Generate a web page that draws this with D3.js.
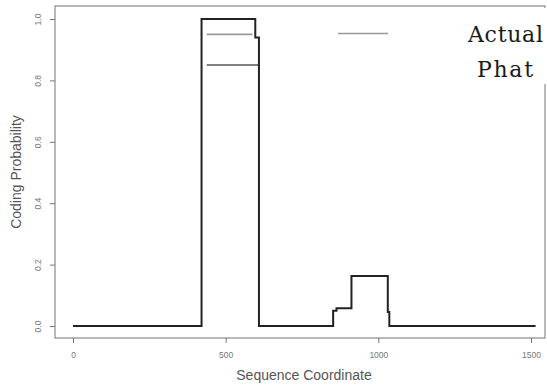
<!DOCTYPE html>
<html>
<head>
<script src="https://d3js.org/d3.v7.min.js"></script>
<style>
body {margin: 0; background: #fff;}
</style>
</head>
<body>
<svg id="chart" width="547" height="385"></svg>
<script>
// step function breakpoints (sequence coordinate) and the coding probability from each one on
var stepPos = [0, 421, 597, 609, 852, 863, 912, 1031, 1036, 1515];
var stepVal = [0, 1.0, 0.94, 0, 0.05, 0.058, 0.163, 0.046, 0, 0];
// "Actual" segments drawn inside the plot
var segStart = [438, 438];
var segEnd = [588, 607];
var segVal = [0.95, 0.85];
var xTicks = [0, 500, 1000, 1500];
var yTicks = [0, 0.2, 0.4, 0.6, 0.8, 1.0];

var svg = d3.select("#chart");
var box = {left: 55, right: 545, top: 6, bottom: 338};

var x = d3.scaleLinear().domain([0, 1500]).range([73, 531]);
var y = d3.scaleLinear().domain([0, 1]).range([326, 19]);

// frame
svg.append("rect")
    .attr("x", box.left).attr("y", box.top)
    .attr("width", box.right - box.left).attr("height", box.bottom - box.top)
    .attr("fill", "none").attr("stroke", "#8a8a8a").attr("stroke-width", 1.2);

// axes
var xAxis = svg.append("g")
    .attr("transform", "translate(0," + box.bottom + ")")
    .call(d3.axisBottom(x).tickValues(xTicks).tickSize(5).tickPadding(9).tickFormat(d3.format("d")));
var yAxis = svg.append("g")
    .attr("transform", "translate(" + box.left + ",0)")
    .call(d3.axisLeft(y).tickValues(yTicks).tickSize(5).tickFormat(d3.format(".1f")));
[xAxis, yAxis].forEach(function(g) {
    g.select(".domain").remove();
    g.selectAll("line").attr("stroke", "#777");
    g.selectAll("text").attr("fill", "#777").style("font-family", "Liberation Sans, Arial, sans-serif").style("font-size", "8.5px");
});
yAxis.selectAll("text")
    .attr("x", null).attr("dy", null)
    .attr("text-anchor", "middle")
    .attr("transform", function(d) { return "translate(-14,0) rotate(-90)"; })
    .attr("y", 0);

// axis titles
svg.append("text")
    .attr("x", 304).attr("y", 380)
    .attr("text-anchor", "middle")
    .attr("fill", "#555")
    .style("font-family", "Liberation Sans, Arial, sans-serif").style("font-size", "14px")
    .text("Sequence Coordinate");
svg.append("text")
    .attr("transform", "translate(21,172) rotate(-90)")
    .attr("text-anchor", "middle")
    .attr("fill", "#555")
    .style("font-family", "Liberation Sans, Arial, sans-serif").style("font-size", "14px")
    .text("Coding Probability");

// grey actual segments
svg.selectAll(".seg")
    .data(segVal)
    .enter().append("line")
    .attr("class", "seg")
    .attr("x1", function(d, i) { return x(segStart[i]); })
    .attr("x2", function(d, i) { return x(segEnd[i]); })
    .attr("y1", function(d) { return y(d); })
    .attr("y2", function(d) { return y(d); })
    .attr("stroke", function(d, i) { return i == 0 ? "#999" : "#555"; })
    .attr("stroke-width", 1.6);

// phat step line
var line = d3.line()
    .x(function(d, i) { return x(stepPos[i]); })
    .y(function(d) { return y(d); })
    .curve(d3.curveStepAfter);
svg.append("path")
    .attr("d", line(stepVal))
    .attr("fill", "none")
    .attr("stroke", "#222")
    .attr("stroke-width", 2);

// legend
svg.append("rect")
    .attr("x", 458).attr("y", 8).attr("width", 89).attr("height", 76)
    .attr("fill", "#fff");
svg.append("line")
    .attr("x1", 338).attr("x2", 388).attr("y1", 33.5).attr("y2", 33.5)
    .attr("stroke", "#999").attr("stroke-width", 1.6);
svg.append("text")
    .attr("x", 468).attr("y", 42)
    .attr("textLength", 75).attr("lengthAdjust", "spacing")
    .attr("fill", "#1a1a1a")
    .style("font-family", "DejaVu Serif, serif").style("font-size", "22px")
    .text("Actual");
svg.append("text")
    .attr("x", 477).attr("y", 77)
    .attr("textLength", 56).attr("lengthAdjust", "spacing")
    .attr("fill", "#1a1a1a")
    .style("font-family", "DejaVu Serif, serif").style("font-size", "22px")
    .text("Phat");
</script>
</body>
</html>
